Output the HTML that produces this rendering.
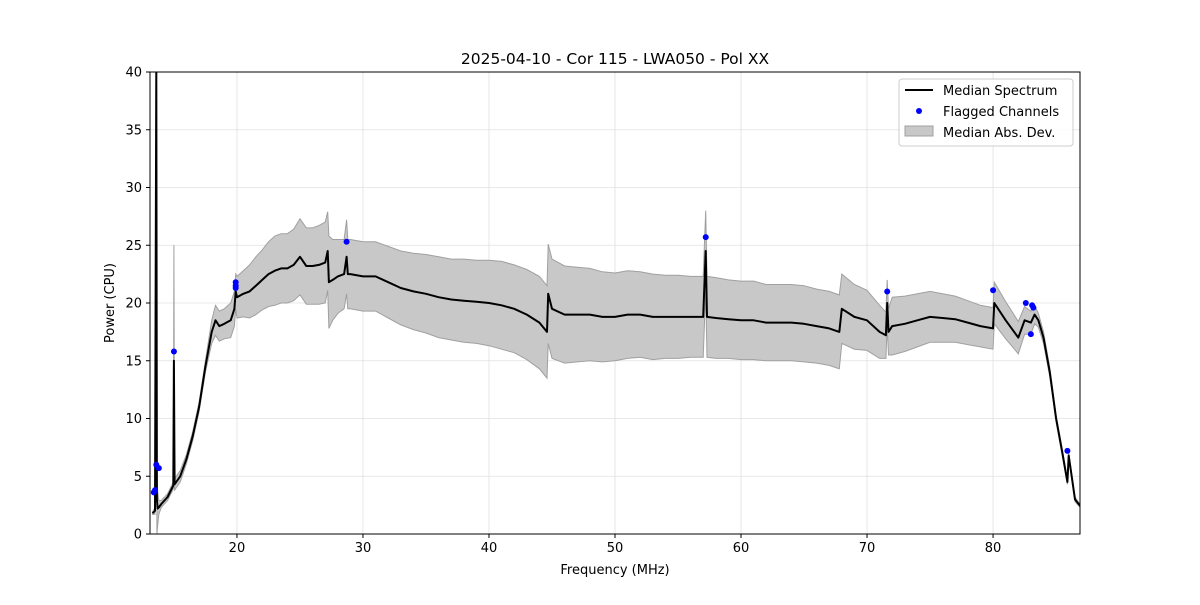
<!DOCTYPE html>
<html><head><meta charset="utf-8"><style>
body{margin:0;background:#fff;font-family:"Liberation Sans","DejaVu Sans",sans-serif}
svg text{font-family:"DejaVu Sans","Liberation Sans",sans-serif}
</style></head><body>
<svg id="c" width="1200" height="600"></svg>
<script>
const freqs=[13.3,13.5,13.6,13.65,13.7,13.8,14,14.5,14.95,15,15.05,15.5,16,16.5,17,17.5,18,18.3,18.6,19,19.5,19.8,19.9,20,20.5,21,21.5,22,22.5,23,23.5,24,24.5,25,25.5,26,26.5,27,27.2,27.3,27.6,28,28.5,28.7,28.8,29,30,31,32,33,34,35,36,37,38,39,40,41,42,43,44,44.6,44.7,45,46,47,48,49,50,51,52,53,54,55,56,57,57.2,57.3,58,59,60,61,62,63,64,65,66,67,67.8,68,69,70,71,71.5,71.6,71.7,72,73,74,75,76,77,78,79,80,80.1,81,82,82.5,83,83.3,83.6,84,84.5,85,85.5,85.9,86,86.5,87];
const median=[1.8,2.0,40.5,3.0,2.2,2.3,2.6,3.2,4.2,15.0,4.3,5.0,6.5,8.5,11.0,14.5,17.5,18.5,18.0,18.2,18.5,19.5,21.0,20.5,20.8,21.0,21.5,22.0,22.5,22.8,23.0,23.0,23.3,24.0,23.2,23.2,23.3,23.5,24.5,21.8,22.0,22.3,22.5,24.0,22.5,22.5,22.3,22.3,21.8,21.3,21.0,20.8,20.5,20.3,20.2,20.1,20.0,19.8,19.5,19.0,18.3,17.5,20.8,19.5,19.0,19.0,19.0,18.8,18.8,19.0,19.0,18.8,18.8,18.8,18.8,18.8,24.5,18.8,18.7,18.6,18.5,18.5,18.3,18.3,18.3,18.2,18.0,17.8,17.5,19.5,18.8,18.5,17.5,17.2,20.0,17.5,18.0,18.2,18.5,18.8,18.7,18.6,18.3,18.0,17.8,20.0,18.5,17.0,18.5,18.3,19.0,18.5,17.0,14.0,10.0,7.0,4.5,6.8,3.0,2.3];
const dev=[0.1,0.3,0.5,3,1.5,0.6,0.3,0.3,0.3,10,0.5,0.5,0.4,0.4,0.4,0.5,1.0,1.3,1.3,1.3,1.5,1.5,1.5,1.8,2.0,2.3,2.5,2.6,2.8,3.0,3.0,3.0,3.1,3.3,3.3,3.3,3.4,3.5,3.4,4.0,3.5,3.2,3.0,3.2,3.0,3.0,3.0,3.0,3.1,3.2,3.3,3.4,3.5,3.5,3.6,3.6,3.7,3.8,3.8,3.9,4.0,4.0,4.3,4.3,4.2,4.1,4.0,3.9,3.8,3.8,3.7,3.7,3.6,3.6,3.5,3.5,3.5,3.5,3.5,3.4,3.4,3.4,3.3,3.3,3.3,3.3,3.2,3.2,3.2,3.0,2.8,2.6,2.3,2.0,2.0,2.0,2.5,2.4,2.3,2.2,2.1,2.0,1.9,1.8,1.8,1.8,1.6,1.4,1.2,1.0,0.8,0.6,0.5,0.4,0.3,0.3,0.2,0.2,0.2,0.1];
const flagF=[13.4,13.5,13.6,13.8,15.0,19.9,19.9,19.9,28.7,57.2,71.6,80.0,82.6,83.1,83.2,83.0,85.9];
const flagV=[3.6,3.8,6.0,5.7,15.8,21.8,21.5,21.3,25.3,25.7,21.0,21.1,20.0,19.8,19.6,17.3,7.2];
const xTicks=[20,30,40,50,60,70,80];
const yTicks=[0,5,10,15,20,25,30,35,40];

const L=150,R=1080,T=72,B=534,X0=13.1,X1=86.9,Y0=0,Y1=40;
const sx=f=>L+(f-X0)/(X1-X0)*(R-L), sy=v=>B-(v-Y0)/(Y1-Y0)*(B-T);
const svg=document.getElementById('c');const NS='http://www.w3.org/2000/svg';
function mk(t,a,p){const e=document.createElementNS(NS,t);for(const k in a)e.setAttribute(k,a[k]);(p||svg).appendChild(e);return e;}
const clip=mk('clipPath',{id:'pc'});mk('rect',{x:L,y:T,width:R-L,height:B-T},clip);
xTicks.forEach(t=>{const g=mk('line',{x1:sx(t),x2:sx(t),y1:T,y2:B,stroke:'#e0e0e0','stroke-width':0.8});});
yTicks.forEach(t=>{const g=mk('line',{x1:L,x2:R,y1:sy(t),y2:sy(t),stroke:'#e0e0e0','stroke-width':0.8});});
const pg=mk('g',{'clip-path':'url(#pc)'});
let up=freqs.map((f,i)=>sx(f).toFixed(1)+','+sy(median[i]+dev[i]).toFixed(1));
let lo=freqs.map((f,i)=>sx(f).toFixed(1)+','+sy(median[i]-dev[i]).toFixed(1)).reverse();
const band=mk('polygon',{points:up.concat(lo).join(' '),fill:'#c8c8c8',stroke:'#a0a0a0','stroke-width':1},pg);

const line=mk('polyline',{points:freqs.map((f,i)=>sx(f).toFixed(1)+','+sy(median[i]).toFixed(1)).join(' '),fill:'none',stroke:'#000','stroke-width':2,'stroke-linejoin':'round'},pg);

flagF.forEach((f,i)=>{const c=mk('circle',{cx:sx(f),cy:sy(flagV[i]),r:3,fill:'#0000ff'},pg);});
const fr=mk('rect',{x:L,y:T,width:R-L,height:B-T,fill:'none',stroke:'#000','stroke-width':1});
xTicks.forEach(t=>{mk('line',{x1:sx(t),x2:sx(t),y1:B,y2:B+4,stroke:'#000'});const tx=mk('text',{x:sx(t),y:B+18,'text-anchor':'middle','font-size':13});tx.textContent=t;});
yTicks.forEach(t=>{mk('line',{x1:L-4,x2:L,y1:sy(t),y2:sy(t),stroke:'#000'});const tx=mk('text',{x:L-8,y:sy(t)+4.5,'text-anchor':'end','font-size':13});tx.textContent=t;});
let e=mk('text',{x:615,y:64,'text-anchor':'middle','font-size':15.5});e.textContent='2025-04-10 - Cor 115 - LWA050 - Pol XX';
e=mk('text',{x:615,y:574,'text-anchor':'middle','font-size':13});e.textContent='Frequency (MHz)';
e=mk('text',{x:114,y:303,'text-anchor':'middle','font-size':13,transform:'rotate(-90 114 303)'});e.textContent='Power (CPU)';
const lg=mk('g',{});
mk('rect',{x:899,y:79,width:174,height:67,rx:3,fill:'#fff','fill-opacity':0.85,stroke:'#ccc'},lg);
mk('line',{x1:905,x2:933,y1:90,y2:90,stroke:'#000','stroke-width':2},lg);
mk('circle',{cx:919,cy:111,r:3,fill:'#0000ff'},lg);
mk('rect',{x:905,y:126,width:28,height:10,fill:'#c8c8c8',stroke:'#a0a0a0'},lg);
[['Median Spectrum',95],['Flagged Channels',116],['Median Abs. Dev.',137]].forEach(([s,y])=>{const t=mk('text',{x:943,y:y,'font-size':13},lg);t.textContent=s;});
</script>
</body></html>
